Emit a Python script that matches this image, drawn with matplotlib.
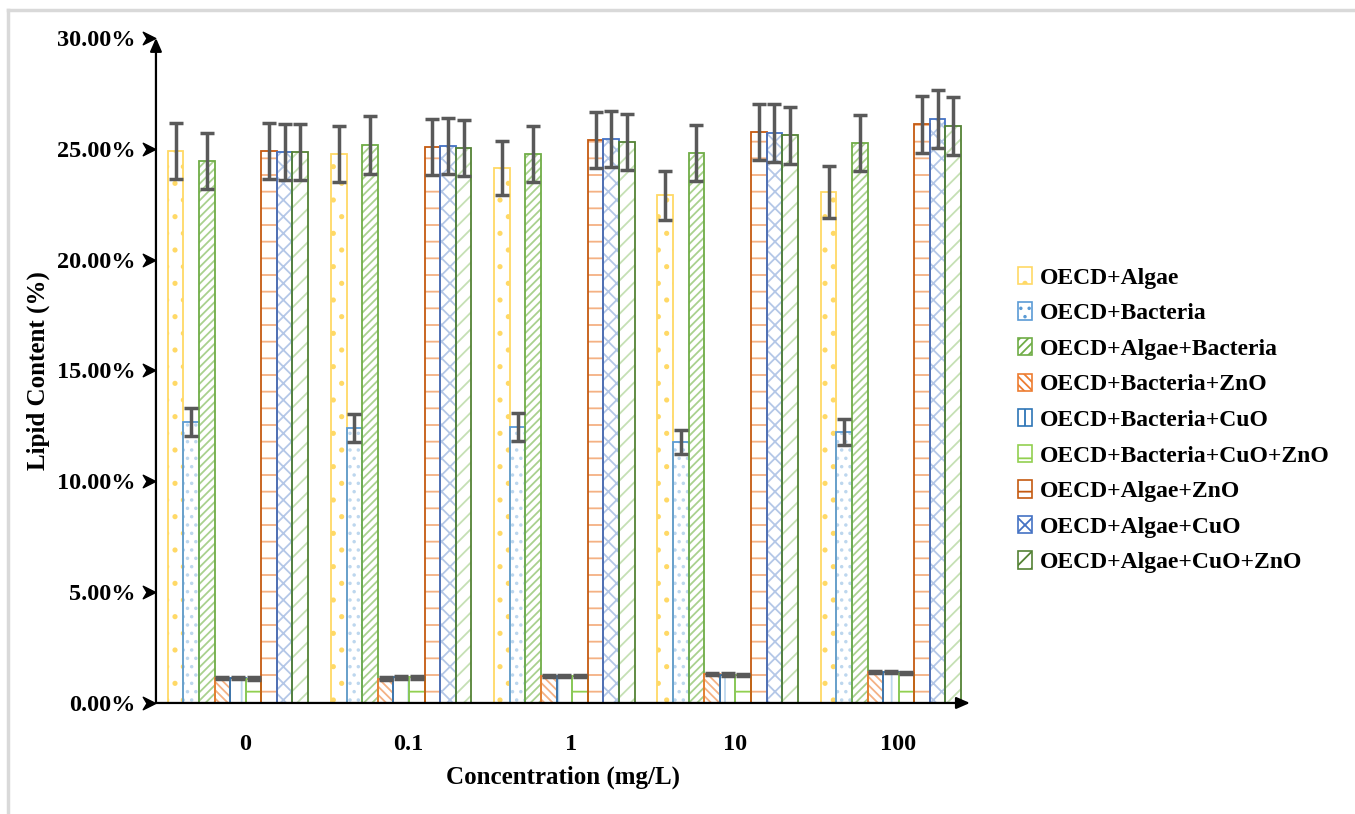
import numpy as np
import matplotlib
matplotlib.use("Agg")
import matplotlib.pyplot as plt
from matplotlib.path import Path
from matplotlib.lines import Line2D

concentrations = ["0", "0.1", "1", "10", "100"]

treatments = [
    "OECD+Algae",
    "OECD+Bacteria",
    "OECD+Algae+Bacteria",
    "OECD+Bacteria+ZnO",
    "OECD+Bacteria+CuO",
    "OECD+Bacteria+CuO+ZnO",
    "OECD+Algae+ZnO",
    "OECD+Algae+CuO",
    "OECD+Algae+CuO+ZnO",
]

# lipid content (%) per treatment, one value per concentration
algae = [24.90, 24.76, 24.13, 22.90, 23.05]
bacteria = [12.67, 12.40, 12.45, 11.77, 12.22]
algae_bacteria = [24.45, 25.17, 24.76, 24.80, 25.26]
bacteria_zno = [1.13, 1.10, 1.20, 1.30, 1.40]
bacteria_cuo = [1.13, 1.15, 1.20, 1.28, 1.40]
bacteria_cuo_zno = [1.10, 1.15, 1.20, 1.25, 1.35]
algae_zno = [24.90, 25.08, 25.40, 25.75, 26.10]
algae_cuo = [24.85, 25.12, 25.44, 25.70, 26.35]
algae_cuo_zno = [24.85, 25.03, 25.30, 25.60, 26.03]

# standard deviations
algae_err = [1.25, 1.25, 1.20, 1.10, 1.17]
bacteria_err = [0.63, 0.63, 0.63, 0.55, 0.60]
algae_bacteria_err = [1.26, 1.30, 1.26, 1.26, 1.26]
bacteria_zno_err = [0.05, 0.05, 0.05, 0.05, 0.05]
bacteria_cuo_err = [0.05, 0.05, 0.05, 0.05, 0.05]
bacteria_cuo_zno_err = [0.05, 0.05, 0.05, 0.05, 0.05]
algae_zno_err = [1.25, 1.27, 1.26, 1.26, 1.30]
algae_cuo_err = [1.25, 1.27, 1.26, 1.30, 1.30]
algae_cuo_zno_err = [1.25, 1.27, 1.26, 1.30, 1.30]

values = [algae, bacteria, algae_bacteria, bacteria_zno, bacteria_cuo,
          bacteria_cuo_zno, algae_zno, algae_cuo, algae_cuo_zno]
errors = [algae_err, bacteria_err, algae_bacteria_err, bacteria_zno_err,
          bacteria_cuo_err, bacteria_cuo_zno_err, algae_zno_err,
          algae_cuo_err, algae_cuo_zno_err]

# (outline colour, hatch colour, hatch)
styles = [
    ("#FFD966", "#FFD966", "."),
    ("#5B9BD5", "#BDD7EE", ".."),
    ("#70AD47", "#A9D18E", "////"),
    ("#ED7D31", "#F4B183", "\\\\\\\\"),
    ("#2E75B6", "#BDD7EE", "|"),
    ("#92D050", "#92D050", "-"),
    ("#C55A11", "#F4B183", "-"),
    ("#4472C4", "#B4C7E7", "xx"),
    ("#548235", "#C5E0B4", "//"),
]

plt.rcParams["font.family"] = ["Liberation Serif", "DejaVu Serif"]
plt.rcParams["font.weight"] = "bold"
plt.rcParams["hatch.linewidth"] = 1.3

fig = plt.figure(figsize=(13.55, 8.14), dpi=100)
ax = fig.add_axes([0.1151, 0.1364, 0.6007, 0.8170])

x = np.arange(len(concentrations))
width = 0.0955
shift = -0.043
handles = []
for i, (vals, errs, (edge, hcol, hatch)) in enumerate(zip(values, errors, styles)):
    pos = x + shift + (i - 4) * width
    ax.bar(pos, vals, width, color="white", edgecolor=hcol, hatch=hatch,
           linewidth=0, zorder=2)
    ax.bar(pos, vals, width, fill=False, edgecolor=edge, linewidth=1.3, zorder=3)
    ax.errorbar(pos, vals, yerr=errs, fmt="none", ecolor="#595959",
                elinewidth=2.5, capsize=5, capthick=2.5, zorder=4)
    h = plt.Rectangle((0, 0), 1, 1, facecolor="white", edgecolor=edge,
                      hatch=hatch, linewidth=1.2)
    handles.append(h)

ax.set_xlim(-0.545, 4.441)
ax.set_ylim(0, 30)
for s in ax.spines.values():
    s.set_visible(False)

# axis lines with arrow heads
ax.annotate("", xy=(0, 1.0), xytext=(0, 0), xycoords="axes fraction",
            arrowprops=dict(arrowstyle="-|>,head_length=0.8,head_width=0.35",
                            color="black", lw=1.6, shrinkA=0, shrinkB=0))
ax.annotate("", xy=(1.0, 0), xytext=(0, 0), xycoords="axes fraction",
            arrowprops=dict(arrowstyle="-|>,head_length=0.8,head_width=0.35",
                            color="black", lw=1.6, shrinkA=0, shrinkB=0))

# arrow-shaped tick marks on the value axis
tick_marker = Path([(-1, -1), (1, 0), (-1, 1), (-0.4, 0), (-1, -1)],
                   [Path.MOVETO, Path.LINETO, Path.LINETO, Path.LINETO, Path.CLOSEPOLY])
yticks = np.arange(0, 31, 5)
trans = ax.get_yaxis_transform()
ax.plot([-0.008] * len(yticks), yticks, linestyle="none", marker=tick_marker,
        markersize=9, color="black", transform=trans, clip_on=False)

ax.set_yticks(yticks)
ax.set_yticklabels([f"{v:.2f}%" for v in yticks], fontsize=17.5, fontweight="bold")
ax.set_xticks(x)
ax.set_xticklabels(concentrations, fontsize=17.5, fontweight="bold")
ax.tick_params(axis="y", length=0, pad=15)
ax.tick_params(axis="x", length=0, pad=22)

ax.set_ylabel("Lipid Content (%)", fontsize=18, fontweight="bold", labelpad=5)
ax.set_xlabel("Concentration (mg/L)", fontsize=18, fontweight="bold", labelpad=8)

fig.legend(handles, treatments, loc="center left", bbox_to_anchor=(0.744, 0.484),
           frameon=False, prop={"weight": "bold", "size": 17},
           handlelength=0.6, handleheight=0.75, handletextpad=0.35,
           labelspacing=0.58, borderaxespad=0)

# light frame along the top and left edges
fig.add_artist(Line2D([0.006, 0.006], [0, 0.988], color="#D9D9D9", lw=2.5,
                      transform=fig.transFigure))
fig.add_artist(Line2D([0.006, 1.0], [0.988, 0.988], color="#D9D9D9", lw=2.5,
                      transform=fig.transFigure))

fig.savefig("out.png", dpi=100)
